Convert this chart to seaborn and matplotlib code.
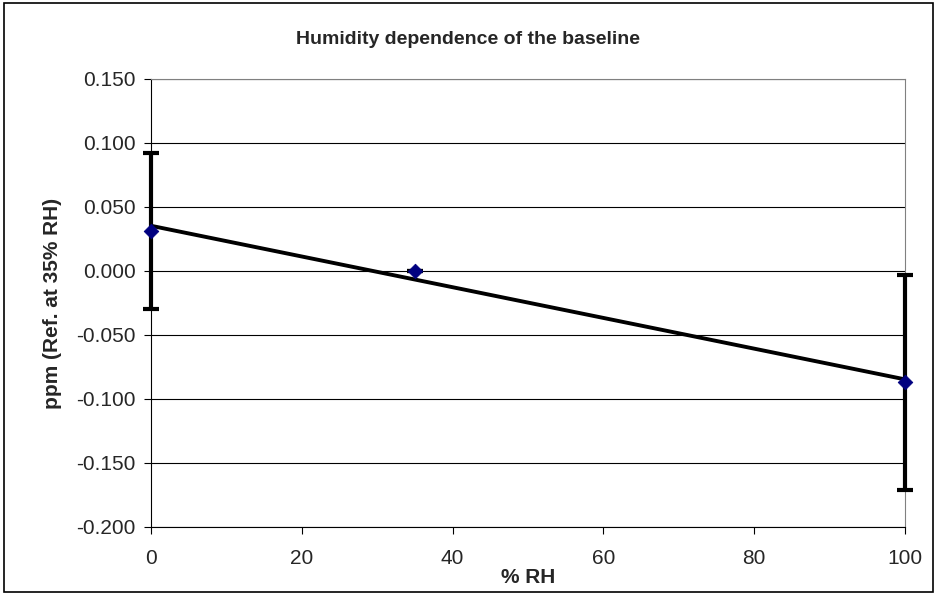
import numpy as np
import pandas as pd
import matplotlib
matplotlib.use("Agg")
import matplotlib.pyplot as plt
import seaborn as sns

# dati
rh = [0, 35, 100]
ppm = [0.031, 0.000, -0.087]
err = [0.061, 0.0, 0.084]

y_ticks = [-0.200, -0.150, -0.100, -0.050, 0.000, 0.050, 0.100, 0.150]
x_ticks = [0, 20, 40, 60, 80, 100]

df = pd.DataFrame({"rh": rh, "ppm": ppm, "err": err})

sns.set_style("white")
plt.rcParams["font.family"] = ["Liberation Sans", "DejaVu Sans"]

fig = plt.figure(figsize=(9.36, 5.94), dpi=100)
ax = fig.add_axes([151 / 936, 67 / 594, 754 / 936, 448 / 594])

# bordo esterno del grafico
fig.patches.append(plt.Rectangle((4 / 936, 2 / 594), 929 / 936, 589 / 594,
                                 transform=fig.transFigure, fill=False,
                                 edgecolor="black", lw=1.2))

# griglia orizzontale
for t in y_ticks:
    ax.axhline(t, color="black", lw=0.8, zorder=0)

# linea di tendenza lineare
sns.regplot(data=df, x="rh", y="ppm", scatter=False, ci=None, ax=ax,
            color="black", line_kws={"lw": 2.8, "zorder": 2})

# barre d'errore
ax.errorbar(df["rh"], df["ppm"], yerr=df["err"], fmt="none", ecolor="black",
            elinewidth=3, capsize=6, capthick=3, zorder=3, clip_on=False)

# punti
sns.scatterplot(data=df, x="rh", y="ppm", ax=ax, marker="D", s=55,
                color="#000080", edgecolor="#000080", zorder=4, clip_on=False)

ax.set_xlim(0, 100)
ax.set_ylim(-0.2, 0.15)
ax.set_xticks(x_ticks)
ax.set_yticks(y_ticks)
ax.set_yticklabels([f"{t:.3f}" for t in y_ticks])
ax.tick_params(axis="both", labelsize=15, length=5, width=0.8,
               direction="out", color="black", bottom=True, left=True)
ax.tick_params(axis="y", pad=6)
ax.tick_params(axis="x", pad=11)

for side in ["left", "bottom"]:
    ax.spines[side].set_color("black")
    ax.spines[side].set_linewidth(0.8)
for side in ["right", "top"]:
    ax.spines[side].set_color("gray")
    ax.spines[side].set_linewidth(0.8)

# titolo centrato sulla figura, non sugli assi
fig.text(0.5, 1 - 40 / 594, "Humidity dependence of the baseline",
         fontsize=14, fontweight="bold", ha="center", va="center")
ax.set_xlabel("% RH", fontsize=15, fontweight="bold", labelpad=0)
ax.set_ylabel("ppm (Ref. at 35% RH)", fontsize=15, fontweight="bold",
              labelpad=10)

fig.savefig("out.png", dpi=100)
